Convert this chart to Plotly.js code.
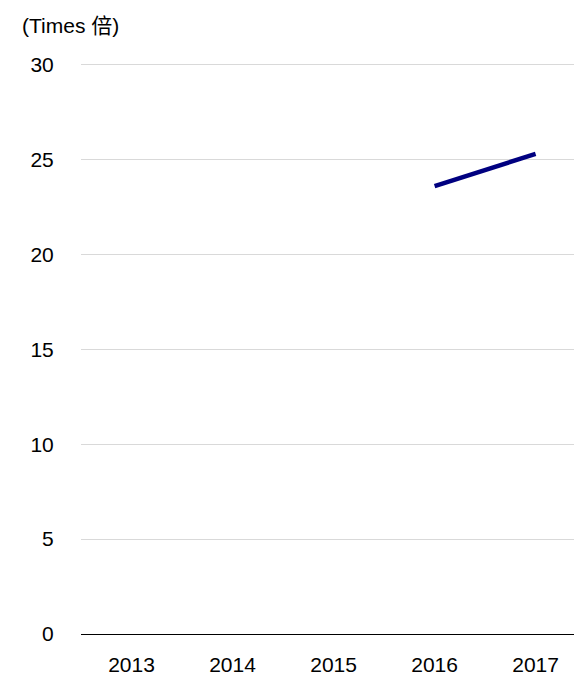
<!DOCTYPE html>
<html>
<head>
<meta charset="utf-8">
<script src="https://cdn.plot.ly/plotly-3.0.1.min.js"></script>
<style>html,body{margin:0;padding:0;background:#fff;overflow:hidden;}#chart{width:574px;height:678px;}</style>
</head>
<body>
<div id="chart"></div>
<script>
const categories = ["2013", "2014", "2015", "2016", "2017"];
const values = [null, null, null, 23.6, 25.3];
const yTicks = [0, 5, 10, 15, 20, 25, 30];
const unitLabel = "(Times 倍)";

const trace = {
  x: categories,
  y: values,
  type: "scatter",
  mode: "lines",
  line: { color: "#000080", width: 4.5 },
  connectgaps: false,
  hoverinfo: "skip"
};

const layout = {
  width: 574,
  height: 678,
  margin: { l: 81, r: 0, t: 59, b: 44 },
  paper_bgcolor: "#ffffff",
  plot_bgcolor: "#ffffff",
  font: { family: "Liberation Sans, Arial, sans-serif", size: 21, color: "#000000" },
  showlegend: false,
  xaxis: {
    type: "category",
    categoryorder: "array",
    categoryarray: categories,
    range: [-0.5, 4.38],
    showgrid: false,
    zeroline: false,
    showline: true,
    linecolor: "#000000",
    linewidth: 1.2,
    ticks: "outside",
    ticklen: 12,
    tickcolor: "rgba(0,0,0,0)",
    tickfont: { size: 21 }
  },
  yaxis: {
    range: [0, 30.3],
    tickvals: yTicks,
    ticktext: yTicks.map(String),
    showgrid: true,
    gridcolor: "#d9d9d9",
    gridwidth: 1,
    zeroline: false,
    showline: false,
    ticks: "outside",
    ticklen: 22,
    tickcolor: "rgba(0,0,0,0)",
    tickfont: { size: 21 }
  },
  annotations: [{
    text: unitLabel,
    xref: "paper", yref: "paper",
    x: (20 - 81) / 493, y: 1,
    xanchor: "left", yanchor: "bottom",
    yshift: 20,
    showarrow: false,
    font: { size: 21, family: "Liberation Sans, Noto Sans CJK SC, sans-serif" }
  }]
};

Plotly.newPlot("chart", [trace], layout, { staticPlot: true });
</script>
</body>
</html>
